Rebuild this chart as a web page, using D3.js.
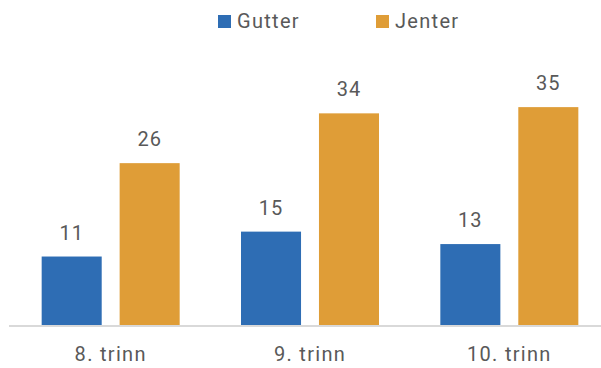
<!DOCTYPE html>
<html>
<head>
<meta charset="utf-8">
<script src="https://cdn.jsdelivr.net/npm/d3@7"></script>
<style>
  html, body { margin: 0; padding: 0; background: #fff; }
  svg { display: block; }
  text { font-family: Roboto, "Noto Sans", sans-serif; fill: #595959; }
</style>
</head>
<body>
<script>
// Andel per trinn, fordelt på gutter og jenter
const categories = ["8. trinn", "9. trinn", "10. trinn"];
const seriesNames = ["Gutter", "Jenter"];
const gutter = [11, 15, 13];
const jenter = [26, 34, 35];
const colors = ["#2e6db4", "#df9d37"];

const W = 601, H = 368;
const svg = d3.select("body").append("svg").attr("width", W).attr("height", H);

const baseY = 325;
const x0 = d3.scaleBand().domain(categories).range([11, 609]).paddingInner(0).paddingOuter(0);
// Pair of bars, 138px wide, centred in each category band
const pairW = 138;
const x1 = d3.scaleBand().domain(seriesNames)
  .range([x0.bandwidth() / 2 - pairW / 2, x0.bandwidth() / 2 + pairW / 2])
  .paddingInner(0.23).paddingOuter(0);
const y = d3.scaleLinear().domain([0, 40]).range([baseY, 76]);

const rows = categories.map((c, i) => ({ cat: c, vals: [gutter[i], jenter[i]] }));

// Bars
const groups = svg.selectAll("g.grp").data(rows).join("g")
  .attr("class", "grp")
  .attr("transform", d => `translate(${x0(d.cat)},0)`);

groups.selectAll("rect").data(d => d.vals.map((v, k) => ({ k, v }))).join("rect")
  .attr("x", d => x1(seriesNames[d.k]))
  .attr("y", d => y(d.v))
  .attr("width", x1.bandwidth())
  .attr("height", d => y(0) - y(d.v))
  .attr("fill", d => colors[d.k]);

// Value labels
groups.selectAll("text.val").data(d => d.vals.map((v, k) => ({ k, v }))).join("text")
  .attr("class", "val")
  .attr("x", d => x1(seriesNames[d.k]) + x1.bandwidth() / 2)
  .attr("y", d => y(d.v) - 17)
  .attr("text-anchor", "middle")
  .style("font-size", "20px")
  .style("letter-spacing", "1px")
  .text(d => d.v);

// Baseline
svg.append("line")
  .attr("x1", 9).attr("x2", W)
  .attr("y1", baseY + 1).attr("y2", baseY + 1)
  .attr("stroke", "#d9d9d9").attr("stroke-width", 2);

// Category axis
const xAxis = svg.append("g")
  .attr("transform", `translate(0,${baseY})`)
  .call(d3.axisBottom(x0).tickSize(0).tickPadding(22));
xAxis.select(".domain").remove();
xAxis.selectAll("text")
  .style("font-size", "20px")
  .style("letter-spacing", "1.3px")
  .style("font-family", "Roboto, sans-serif")
  .attr("fill", "#595959");

// Legend
const legendItems = [
  { name: seriesNames[0], color: colors[0], x: 218 },
  { name: seriesNames[1], color: colors[1], x: 376 }
];
const lg = svg.selectAll("g.leg").data(legendItems).join("g")
  .attr("class", "leg")
  .attr("transform", d => `translate(${d.x},15)`);
lg.append("rect").attr("width", 13).attr("height", 13).attr("fill", d => d.color);
lg.append("text")
  .attr("x", 19).attr("y", 13)
  .style("font-size", "20px")
  .style("letter-spacing", "1.3px")
  .text(d => d.name);
</script>
</body>
</html>
